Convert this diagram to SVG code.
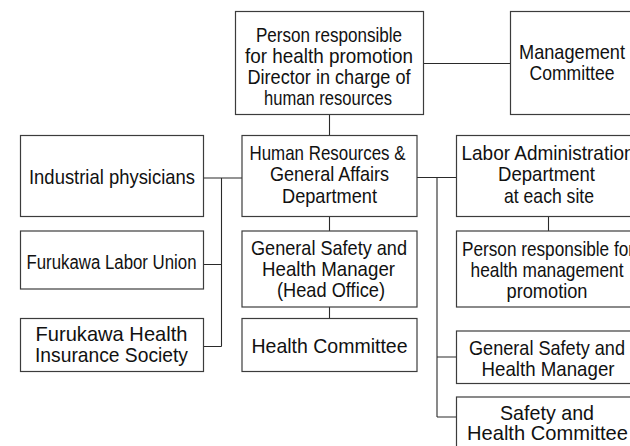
<svg xmlns="http://www.w3.org/2000/svg" width="630" height="446" viewBox="0 0 630 446">
  <style>
    .box { fill: #ffffff; stroke: #3c3c3c; stroke-width: 1.2; }
    .wire { fill: none; stroke: #2a2a2a; stroke-width: 1.1; }
    .lbl { font-family: "Liberation Sans", Arial, sans-serif; font-size: 21px; fill: #111111; text-anchor: middle; }
    .sm { font-size: 19.5px; }
  </style>
  <rect width="630" height="446" fill="#ffffff"/>

  <!-- connectors -->
  <g id="connectors">
    <path class="wire" d="M329.5 114 V135"/>
    <path class="wire" d="M423 63.5 H510"/>
    <path class="wire" d="M203 178 H242 M221.5 178 V346.5 M203 264.5 H221.5 M203 346.5 H221.5"/>
    <path class="wire" d="M329.5 216 V231 M329.5 307 V318.5"/>
    <path class="wire" d="M417 177.5 H456 M437 177.5 V417 M437 357 H456 M437 417 H456"/>
    <path class="wire" d="M548.5 216 V231"/>
  </g>

  <!-- top tier -->
  <g id="health-promotion-lead">
    <rect class="box" x="235.5" y="11.5" width="188" height="103"/>
    <text class="lbl" x="329" y="41.5" textLength="146" lengthAdjust="spacingAndGlyphs">Person responsible</text>
    <text class="lbl" x="329" y="62.5" textLength="168" lengthAdjust="spacingAndGlyphs">for health promotion</text>
    <text class="lbl" x="329" y="83.5" textLength="163" lengthAdjust="spacingAndGlyphs">Director in charge of</text>
    <text class="lbl" x="328" y="104.5" textLength="128" lengthAdjust="spacingAndGlyphs">human resources</text>
  </g>
  <g id="management-committee">
    <rect class="box" x="510.5" y="11.5" width="125" height="103"/>
    <text class="lbl" x="572" y="58.5" textLength="106" lengthAdjust="spacingAndGlyphs">Management</text>
    <text class="lbl" x="572" y="79.5" textLength="85" lengthAdjust="spacingAndGlyphs">Committee</text>
  </g>

  <!-- left column -->
  <g id="industrial-physicians">
    <rect class="box" x="20.5" y="135.5" width="183" height="81"/>
    <text class="lbl" x="112" y="183.5" textLength="166" lengthAdjust="spacingAndGlyphs">Industrial physicians</text>
  </g>
  <g id="labor-union">
    <rect class="box" x="20.5" y="231" width="183" height="58"/>
    <text class="lbl sm" x="111.5" y="269" textLength="170" lengthAdjust="spacingAndGlyphs">Furukawa Labor Union</text>
  </g>
  <g id="health-insurance-society">
    <rect class="box" x="20.5" y="318.5" width="183" height="53"/>
    <text class="lbl" x="111.5" y="341" textLength="152" lengthAdjust="spacingAndGlyphs">Furukawa Health</text>
    <text class="lbl" x="111.5" y="362" textLength="153" lengthAdjust="spacingAndGlyphs">Insurance Society</text>
  </g>

  <!-- centre column -->
  <g id="hr-general-affairs">
    <rect class="box" x="242" y="135.5" width="175" height="81"/>
    <text class="lbl" x="327.5" y="159.5" textLength="156" lengthAdjust="spacingAndGlyphs">Human Resources &amp;</text>
    <text class="lbl" x="329.5" y="181" textLength="119" lengthAdjust="spacingAndGlyphs">General Affairs</text>
    <text class="lbl" x="329.5" y="202.5" textLength="95" lengthAdjust="spacingAndGlyphs">Department</text>
  </g>
  <g id="safety-health-manager-ho">
    <rect class="box" x="242" y="231" width="175" height="76"/>
    <text class="lbl" x="329" y="254.5" textLength="156" lengthAdjust="spacingAndGlyphs">General Safety and</text>
    <text class="lbl" x="328.5" y="275.5" textLength="133" lengthAdjust="spacingAndGlyphs">Health Manager</text>
    <text class="lbl" x="331" y="296.5" textLength="108" lengthAdjust="spacingAndGlyphs">(Head Office)</text>
  </g>
  <g id="health-committee">
    <rect class="box" x="242" y="318.5" width="175" height="53"/>
    <text class="lbl" x="329.5" y="352.5" textLength="156" lengthAdjust="spacingAndGlyphs">Health Committee</text>
  </g>

  <!-- right column -->
  <g id="labor-admin-dept">
    <rect class="box" x="456.5" y="135.5" width="184" height="81"/>
    <text class="lbl" x="548" y="159.5" textLength="173" lengthAdjust="spacingAndGlyphs">Labor Administration</text>
    <text class="lbl" x="546.5" y="181" textLength="97" lengthAdjust="spacingAndGlyphs">Department</text>
    <text class="lbl" x="549" y="202.5" textLength="90" lengthAdjust="spacingAndGlyphs">at each site</text>
  </g>
  <g id="health-management-lead">
    <rect class="box" x="456.5" y="231" width="184" height="76"/>
    <text class="lbl" x="548" y="256" textLength="172" lengthAdjust="spacingAndGlyphs">Person responsible for</text>
    <text class="lbl" x="547" y="277" textLength="153" lengthAdjust="spacingAndGlyphs">health management</text>
    <text class="lbl" x="547" y="298" textLength="81" lengthAdjust="spacingAndGlyphs">promotion</text>
  </g>
  <g id="safety-health-manager">
    <rect class="box" x="456.5" y="331" width="184" height="52.5"/>
    <text class="lbl" x="547" y="355" textLength="156" lengthAdjust="spacingAndGlyphs">General Safety and</text>
    <text class="lbl" x="548" y="376" textLength="133" lengthAdjust="spacingAndGlyphs">Health Manager</text>
  </g>
  <g id="safety-health-committee">
    <rect class="box" x="456.5" y="397" width="184" height="60"/>
    <text class="lbl" x="547" y="419.5" textLength="94" lengthAdjust="spacingAndGlyphs">Safety and</text>
    <text class="lbl" x="547.5" y="440" textLength="161" lengthAdjust="spacingAndGlyphs">Health Committee</text>
  </g>
</svg>
